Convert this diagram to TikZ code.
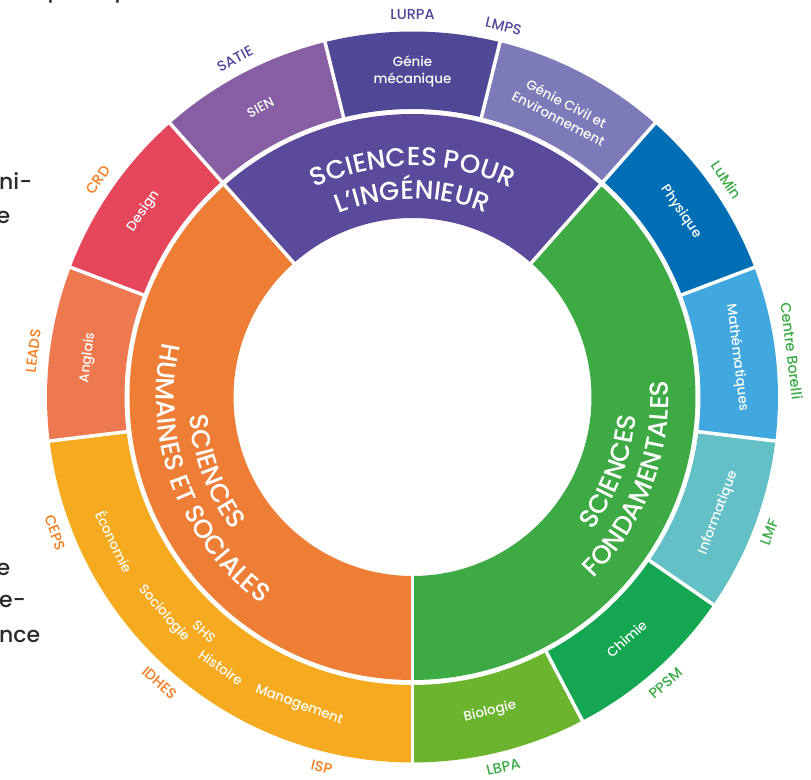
\documentclass[tikz,border=0pt]{standalone}
\usepackage{fontspec}
\IfFontExistsTF{Poppins Medium}{\setmainfont{Poppins Medium}}{\setmainfont{Poppins}[FakeBold=0.4]}
\usetikzlibrary{decorations.text}
\definecolor{cPurple}{HTML}{5B4A9B}
\definecolor{cOrange}{HTML}{EE7D35}
\definecolor{cGreen}{HTML}{3EAA43}
\definecolor{cGM}{HTML}{4F4896}
\definecolor{cSIEN}{HTML}{875DA3}
\definecolor{cGC}{HTML}{7D7AB9}
\definecolor{cPhys}{HTML}{006EB5}
\definecolor{cMath}{HTML}{41A8DF}
\definecolor{cInfo}{HTML}{62C0C6}
\definecolor{cChim}{HTML}{14A650}
\definecolor{cBio}{HTML}{6BB42E}
\definecolor{cYellow}{HTML}{F5AA20}
\definecolor{cAng}{HTML}{EE7850}
\definecolor{cDesign}{HTML}{E6465A}
\definecolor{lPurple}{HTML}{52489B}
\definecolor{lOrange}{HTML}{F57D1E}
\definecolor{lGreen}{HTML}{3CAA46}
\definecolor{cFrag}{HTML}{2B2B2B}
\newcommand\ringseg[5]{%
  \fill[#1] (#2:#4pt) arc[start angle=#2, end angle=#3, radius=#4pt]
    -- (#3:#5pt) arc[start angle=#3, end angle=#2, radius=#5pt] -- cycle;}
\newcommand\bigtxt{\fontsize{26}{30}\selectfont}
\tikzset{
  sep/.style={white, line width=3.5pt},
  seglabel/.style={text=white, font=\fontsize{13.4}{17}\selectfont, align=center, inner sep=0pt},
  outlabel/.style={font=\fontsize{14.5}{16}\selectfont, inner sep=0pt},
  frag/.style={text=cFrag, font=\fontsize{22}{26}\selectfont, inner sep=0pt, anchor=base west},
  bigtext/.style={decorate, decoration={text along path, text align=center, text color=white, text={|\bigtxt|#1}}}
}
\begin{document}
\begin{tikzpicture}[x=1pt,y=1pt]
\useasboundingbox (-412.5,-382) rectangle (398.5,397);
\fill[white] (-412.5,-382) rectangle (398.5,397);
% inner ring
\ringseg{cGreen}{270}{408.46}{179}{283}
\ringseg{cPurple}{48.46}{131.54}{179}{283}
\ringseg{cOrange}{131.54}{270}{179}{283}
% outer ring
\ringseg{cBio}{270}{297.69}{288}{365.5}
\ringseg{cChim}{297.69}{325.38}{288}{365.5}
\ringseg{cInfo}{325.38}{353.08}{288}{365.5}
\ringseg{cMath}{353.08}{380.77}{288}{365.5}
\ringseg{cPhys}{20.77}{48.46}{288}{365.5}
\ringseg{cGC}{48.46}{76.15}{288}{365.5}
\ringseg{cGM}{76.15}{103.85}{288}{365.5}
\ringseg{cSIEN}{103.85}{131.54}{288}{365.5}
\ringseg{cDesign}{131.54}{159.23}{288}{365.5}
\ringseg{cAng}{159.23}{186.92}{288}{365.5}
\ringseg{cYellow}{186.92}{270}{288}{365.5}
% separators
\foreach \a in {48.46,131.54,270} \draw[sep] (\a:177pt) -- (\a:368pt);
\foreach \a in {297.69,325.38,353.08,20.77,76.15,103.85,159.23,186.92} \draw[sep] (\a:286pt) -- (\a:368pt);
% big curved labels
\path[bigtext={SCIENCES POUR}] (150:231pt) arc[start angle=150, end angle=30, radius=231pt];
\path[bigtext={L’INGÉNIEUR}] (150:198pt) arc[start angle=150, end angle=30, radius=198pt];
\path[bigtext={HUMAINES ET SOCIALES}] (140.75:256pt) arc[start angle=140.75, end angle=260.75, radius=256pt];
\path[bigtext={SCIENCES}] (140.75:224pt) arc[start angle=140.75, end angle=260.75, radius=224pt];
\path[bigtext={FONDAMENTALES}] (279.25:256pt) arc[start angle=279.25, end angle=399.25, radius=256pt];
\path[bigtext={SCIENCES}] (279.25:224pt) arc[start angle=279.25, end angle=399.25, radius=224pt];
% segment labels
\node[seglabel] (gm) at (90:326pt) {Génie\\mécanique};
\node[seglabel, rotate=-27.69] (gc) at (62.31:323pt) {Génie Civil et\\Environnement};
\node[seglabel, rotate=27.69] (sien) at (117.69:327pt) {SIEN};
\node[seglabel, rotate=55.38] (design) at (145.38:327pt) {Design};
\node[seglabel, rotate=83.08] (anglais) at (173.08:327pt) {Anglais};
\node[seglabel, rotate=-55.38] (phys) at (34.62:326pt) {Physique};
\node[seglabel, rotate=-83.08] (math) at (6.92:327pt) {Mathématiques};
\node[seglabel, rotate=69.23] (info) at (339.23:327pt) {Informatique};
\node[seglabel, rotate=41.54] (chimie) at (311.54:323pt) {Chimie};
\node[seglabel, rotate=13.85] (bio) at (283.85:324pt) {Biologie};
\node[seglabel, rotate=-64.1] (eco) at (205.9:331pt) {Économie};
\node[seglabel, rotate=-48.95] (socio) at (221.05:330pt) {Sociologie};
\node[seglabel, rotate=-41.6] (shs) at (228.4:314pt) {SHS};
\node[seglabel, rotate=-35.3] (hist) at (234.7:331.5pt) {Histoire};
\node[seglabel, rotate=-20.2] (mgmt) at (249.8:329pt) {Management};
% outside labels
\node[outlabel, text=lPurple] (lurpa) at (90:382pt) {LURPA};
\node[outlabel, text=lPurple, rotate=-13.8] (lmps) at (76.2:382pt) {LMPS};
\node[outlabel, text=lPurple, rotate=27.7] (satie) at (117.7:382pt) {SATIE};
\node[outlabel, text=lOrange, rotate=55.4] (crd) at (145.4:382pt) {CRD};
\node[outlabel, text=lOrange, rotate=83.1] (leads) at (173.1:382pt) {LEADS};
\node[outlabel, text=lOrange, rotate=-69.2] (ceps) at (200.8:382pt) {CEPS};
\node[outlabel, text=lOrange, rotate=-41.5] (idhes) at (228.5:382pt) {IDHES};
\node[outlabel, text=lOrange, rotate=-13.8] (isp) at (256.2:381pt) {ISP};
\node[outlabel, text=lGreen, rotate=13.8] (lbpa) at (283.8:381pt) {LBPA};
\node[outlabel, text=lGreen, rotate=41.5] (ppsm) at (311.5:382pt) {PPSM};
\node[outlabel, text=lGreen, rotate=69.2] (lmf) at (339.2:382pt) {LMF};
\node[outlabel, text=lGreen, rotate=-83.1] (borelli) at (6.9:382pt) {Centre Borelli};
\node[outlabel, text=lGreen, rotate=-55.4] (lumin) at (34.6:382pt) {LuMin};
% page text fragments at the left edge
\node[frag] (f1) at (-413.5,207) {ni-};
\node[frag] (f2) at (-416,173) {e};
\node[frag] (f3) at (-416,-178) {e};
\node[frag] (f4) at (-413.5,-210) {e-};
\node[frag] (f5) at (-413.5,-245) {nce};
\node[frag] (f6) at (-365,399) {p};
\node[frag] (f7) at (-298,399) {p};
\end{tikzpicture}
\end{document}
